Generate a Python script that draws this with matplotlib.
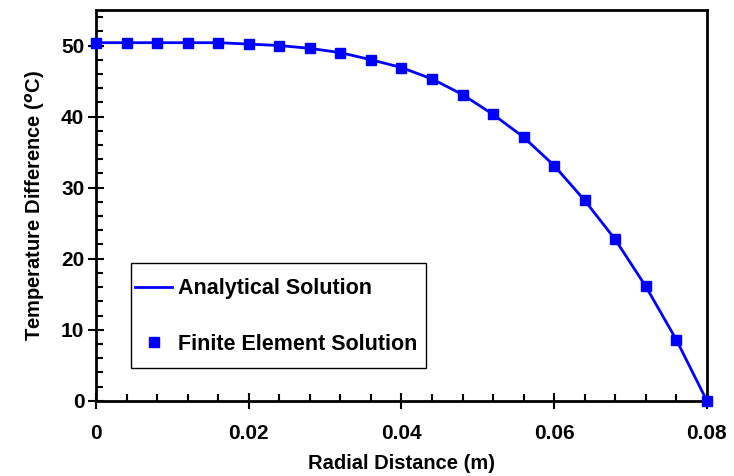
import matplotlib
matplotlib.use("Agg")
import matplotlib.pyplot as plt
from matplotlib.ticker import MultipleLocator
from matplotlib.patches import Rectangle

plt.rcParams["font.family"] = "Liberation Sans"
plt.rcParams["font.weight"] = "bold"
plt.rcParams["mathtext.fontset"] = "custom"
plt.rcParams["mathtext.rm"] = "Liberation Sans:bold"
plt.rcParams["mathtext.bf"] = "Liberation Sans:bold"

# radial distance (m) and temperature difference (C)
radius = [0.0, 0.004, 0.008, 0.012, 0.016, 0.020, 0.024, 0.028, 0.032, 0.036, 0.040,
          0.044, 0.048, 0.052, 0.056, 0.060, 0.064, 0.068, 0.072, 0.076, 0.080]
analytical = [50.4, 50.4, 50.4, 50.4, 50.4, 50.2, 50.0, 49.6, 49.0, 48.0, 46.9,
              45.3, 43.1, 40.3, 37.1, 33.1, 28.2, 22.7, 16.1, 8.6, 0.0]
fem = [50.4, 50.4, 50.4, 50.4, 50.4, 50.2, 50.0, 49.6, 49.0, 48.0, 46.9,
       45.3, 43.1, 40.3, 37.1, 33.1, 28.2, 22.7, 16.1, 8.6, 0.0]

fig = plt.figure(figsize=(7.34, 4.76), dpi=100)
ax = fig.add_axes([0.131, 0.158, 0.832, 0.821])

ax.plot(radius, analytical, color="#0000ff", linewidth=2, label="Analytical Solution", zorder=2)
ax.plot(radius, fem, "s", color="#0000ff", markersize=7.5, linestyle="none",
        label="Finite Element Solution", zorder=3, clip_on=False)

ax.set_xlim(0, 0.08)
ax.set_ylim(0, 55)
ax.xaxis.set_major_locator(MultipleLocator(0.02))
ax.xaxis.set_minor_locator(MultipleLocator(0.004))
ax.yaxis.set_major_locator(MultipleLocator(10))
ax.yaxis.set_minor_locator(MultipleLocator(2))
ax.xaxis.set_major_formatter(plt.FuncFormatter(lambda v, p: "0" if v == 0 else f"{v:.2f}"))

ax.tick_params(which="major", direction="inout", length=11, width=1.5, labelsize=15, pad=11)
ax.tick_params(axis="y", which="major", pad=3)
ax.tick_params(which="minor", direction="in", length=5, width=1.5)
for s in ax.spines.values():
    s.set_linewidth(2)

ax.set_xlabel("Radial Distance (m)", fontsize=14.5, fontweight="bold", labelpad=8)
ax.set_ylabel("Temperature Difference ($^{o}$C)", fontsize=14.5, fontweight="bold", labelpad=10)

# legend frame (tall, tight horizontally as in the original)
ax.add_patch(Rectangle((0.0573, 0.0844), 0.483, 0.2685, transform=ax.transAxes,
                       facecolor="white", edgecolor="black", linewidth=1, zorder=4))
leg = ax.legend(loc="center left", bbox_to_anchor=(0.064, 0.216), fontsize=15.5,
                frameon=False, handlelength=1.7, handletextpad=0.3,
                labelspacing=1.6, borderpad=0, borderaxespad=0)
leg.set_zorder(5)

fig.savefig("out.png", dpi=100)
